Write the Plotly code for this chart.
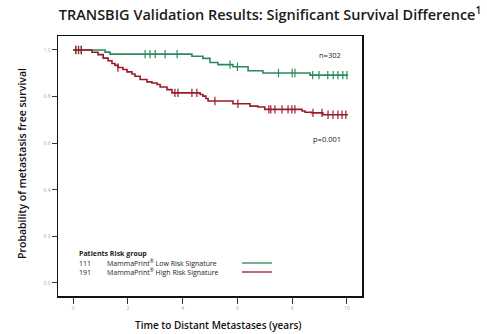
import plotly.graph_objects as go
import numpy as np

# ---- data ----
low_times = [0.0, 1.17, 1.35, 4.34, 4.74, 5.0, 5.29, 5.84, 6.39, 6.93, 8.65, 10.04]
low_surv = [1.0, 0.991, 0.982, 0.973, 0.964, 0.946, 0.937, 0.928, 0.911, 0.901, 0.892, 0.892]
low_censor = [0.1, 0.2, 0.3, 2.63, 2.81, 3.0, 3.36, 3.8, 5.73, 6.0, 7.5, 8.0, 8.1,
              8.75, 8.98, 9.3, 9.5, 9.67, 9.85, 10.0]

high_times = [0.0, 0.69, 0.91, 1.1, 1.28, 1.42, 1.53, 1.64, 1.82, 1.97, 2.15, 2.26, 2.45,
              2.70, 2.88, 3.07, 3.18, 3.43, 3.61, 4.64, 4.74, 4.85, 4.93, 5.84, 6.46,
              6.75, 7.0, 8.36, 8.47, 8.72, 9.12, 10.04]
high_surv = [1.0, 0.99, 0.98, 0.965, 0.954, 0.942, 0.934, 0.925, 0.916, 0.906, 0.897,
             0.887, 0.873, 0.863, 0.858, 0.852, 0.841, 0.830, 0.816, 0.809, 0.802, 0.792,
             0.781, 0.769, 0.759, 0.755, 0.745, 0.738, 0.733, 0.730, 0.722, 0.722]
high_censor = [0.1, 0.2, 0.3, 1.64, 3.72, 3.83, 4.34, 4.52, 5.18, 6.02, 7.15, 7.22,
               7.37, 7.63, 7.85, 7.99, 8.1, 8.76, 9.09, 9.31, 9.49, 9.67, 9.82, 9.96]

x_ticks = [0, 2, 4, 6, 8, 10]
y_ticks = [0.0, 0.2, 0.4, 0.6, 0.8, 1.0]

groups = [
    ("111", "MammaPrint<sup>®</sup> Low Risk Signature", low_times, low_surv, low_censor, "#2b8a5c"),
    ("191", "MammaPrint<sup>®</sup> High Risk Signature", high_times, high_surv, high_censor, "#9a1a2c"),
]


def step_value(times, surv, t):
    idx = np.searchsorted(np.array(times), t, side="right") - 1
    return surv[max(idx, 0)]


fig = go.Figure()
for n, name, t, s, c, col in groups:
    fig.add_trace(go.Scatter(x=t, y=s, mode="lines", line=dict(color=col, width=1.6, shape="hv"),
                             name=name, showlegend=False, hoverinfo="skip"))
    cy = [step_value(t, s, ci) for ci in c]
    fig.add_trace(go.Scatter(x=c, y=cy, mode="markers",
                             marker=dict(symbol="line-ns", size=6, line=dict(color=col, width=1.2)),
                             showlegend=False, hoverinfo="skip"))

# plot area in pixels: x 58..362, y 36..296
W, H = 487, 334
L, R, T, B = 58, 362, 36, 296


def px(X):
    return (X - L) / (R - L)


def py(Y):
    return (B - Y) / (B - T)


small = dict(family="Open Sans", size=7, color="#222")
ann = []
ann.append(dict(x=px(77), y=py(253), xref="paper", yref="paper", xanchor="left", yanchor="middle",
                text="<b>Patients Risk group</b>", showarrow=False, font=small))
for i, (n, name, t, s, c, col) in enumerate(groups):
    Y = 263 + i * 9
    ann.append(dict(x=px(77), y=py(Y), xref="paper", yref="paper", xanchor="left", yanchor="middle",
                    text=n, showarrow=False, font=small))
    ann.append(dict(x=px(105), y=py(Y), xref="paper", yref="paper", xanchor="left", yanchor="middle",
                    text=name, showarrow=False, font=small))
ann.append(dict(x=px(343), y=py(55), xref="paper", yref="paper", xanchor="right", yanchor="middle",
                text="n=302", showarrow=False, font=dict(family="Open Sans", size=7.5, color="#222")))
ann.append(dict(x=px(343), y=py(139), xref="paper", yref="paper", xanchor="right", yanchor="middle",
                text="p=0.001", showarrow=False, font=dict(family="Open Sans", size=7.5, color="#222")))
ann.append(dict(x=px(218), y=py(325), xref="paper", yref="paper", xanchor="center", yanchor="middle",
                text="Time to Distant Metastases (years)", showarrow=False,
                font=dict(family="Open Sans", size=10, color="#111", weight=600)))
ann.append(dict(x=px(22), y=py(164), xref="paper", yref="paper", xanchor="center", yanchor="middle",
                text="Probability of metastasis free survival", textangle=-90, showarrow=False,
                font=dict(family="Open Sans", size=10.5, color="#111", weight=600)))

shapes = []
for i, g in enumerate(groups):
    Y = 263 + i * 9
    shapes.append(dict(type="line", xref="paper", yref="paper", x0=px(242), x1=px(272),
                       y0=py(Y), y1=py(Y), line=dict(color=g[5], width=1.3)))

fig.update_layout(
    width=W, height=H,
    margin=dict(l=L, r=W - R, t=T, b=H - B),
    paper_bgcolor="white", plot_bgcolor="white",
    title=dict(text="TRANSBIG Validation Results: Significant Survival Difference<sup>1</sup>",
               x=270 / W, xanchor="center", y=1 - 15 / H, yanchor="middle", yref="container",
               font=dict(family="Open Sans", size=14.5, color="#1a1a1a", weight=600)),
    xaxis=dict(range=[-0.55, 10.55], tickvals=x_ticks, ticktext=[str(v) for v in x_ticks],
               showgrid=False, zeroline=False, showline=True, linecolor="#111", linewidth=1.5,
               mirror=True, ticks="outside", ticklen=6, tickcolor="#333", tickwidth=1,
               tickfont=dict(family="Open Sans", size=5, color="#aaa")),
    yaxis=dict(range=[-0.056, 1.06], tickvals=y_ticks, ticktext=[f"{v:.1f}" for v in y_ticks],
               showgrid=False, zeroline=False, showline=True, linecolor="#111", linewidth=1.5,
               mirror=True, ticks="outside", ticklen=5, tickcolor="#333", tickwidth=1,
               tickfont=dict(family="Open Sans", size=5, color="#aaa")),
    annotations=ann, shapes=shapes, showlegend=False,
)

fig.write_html("out.html", config={"displayModeBar": False, "staticPlot": True},
               post_script="document.body.style.margin='0';document.body.style.overflow='hidden';")
